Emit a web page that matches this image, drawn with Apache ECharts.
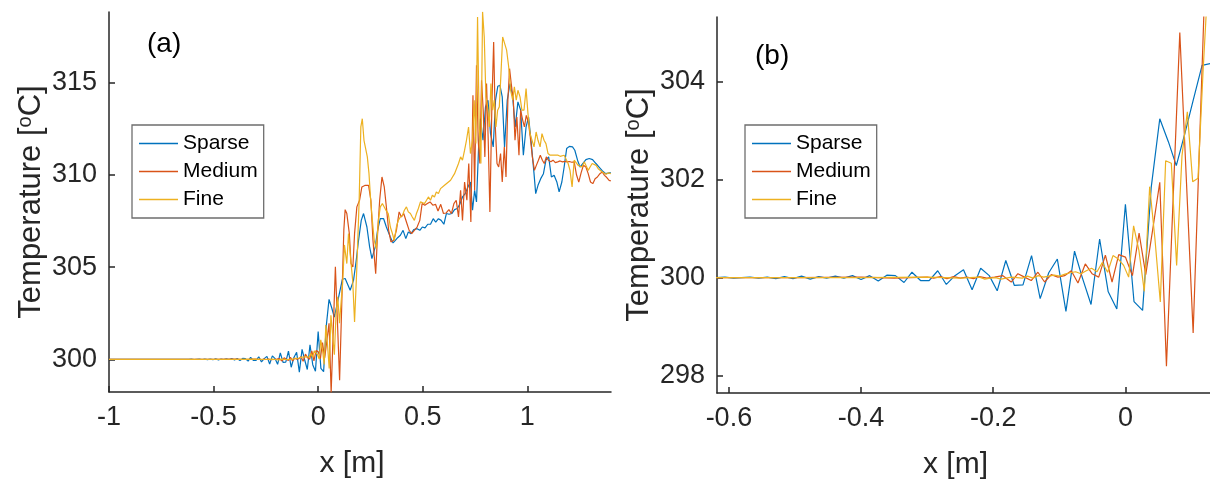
<!DOCTYPE html>
<html>
<head>
<meta charset="utf-8">
<script src="https://cdn.jsdelivr.net/npm/echarts@6/dist/echarts.min.js"></script>
<style>
html,body{margin:0;padding:0;background:#fff;}
#chart{width:1210px;height:485px;}
</style>
</head>
<body>
<div id="chart"></div>
<script>
// ---------- data (x [m], Temperature [oC]) ----------
const seriesNames = ['Sparse', 'Medium', 'Fine'];
const xTicksA = [-1, -0.5, 0, 0.5, 1];
const yTicksA = [300, 305, 310, 315];
const xTicksB = [-0.6, -0.4, -0.2, 0];
const yTicksB = [298, 300, 302, 304];

const sparse = [
[-1,300],[-0.619,300.00],[-0.606,300.01],[-0.593,299.99],[-0.581,300.00],[-0.568,300.01],[-0.555,299.99],
[-0.542,300.01],[-0.529,299.98],[-0.516,300.02],[-0.503,299.98],[-0.490,300.03],[-0.477,299.97],[-0.464,300.02],
[-0.452,299.99],[-0.439,300.03],[-0.426,299.99],[-0.413,300.04],[-0.400,299.96],[-0.387,300.04],[-0.374,299.93],
[-0.361,300.05],[-0.348,300.04],[-0.335,299.90],[-0.323,300.11],[-0.310,299.94],[-0.297,299.94],[-0.284,300.14],
[-0.271,299.86],[-0.258,300.04],[-0.245,300.16],[-0.232,299.75],[-0.219,300.19],[-0.206,300.04],[-0.194,299.73],
[-0.181,300.35],[-0.168,299.84],[-0.155,299.85],[-0.142,300.45],[-0.129,299.57],[-0.116,300.10],[-0.103,300.38],
[-0.090,299.31],[-0.077,300.54],[-0.065,299.99],[-0.052,299.45],[-0.039,300.79],[-0.026,299.71],[-0.013,299.36],
[0,301.50],[0.013,299.51],[0.026,299.33],[0.039,301.84],[0.052,303.25],[0.065,302.78],[0.077,302.29],
[0.090,302.95],[0.103,303.65],[0.116,304.34],[0.129,304.38],
[0.137,304.28],[0.153,303.74],[0.169,304.28],[0.182,305.37],[0.193,306.45],[0.206,307.53],[0.217,307.90],
[0.233,307.17],[0.246,306.09],[0.257,305.46],[0.273,306.09],[0.284,306.99],[0.297,307.62],[0.313,307.62],
[0.326,307.17],[0.345,306.63],[0.358,306.31],[0.369,306.45],[0.380,306.59],[0.393,306.72],[0.406,306.99],
[0.419,306.54],[0.431,306.90],[0.444,306.81],[0.457,307.03],[0.473,307.08],[0.486,306.99],[0.498,307.17],
[0.511,307.12],[0.524,307.32],[0.537,307.32],[0.550,307.62],[0.562,307.44],[0.575,307.62],[0.588,307.53],
[0.601,307.32],[0.613,307.90],[0.626,307.86],[0.639,307.90],[0.652,308.11],[0.665,308.17],[0.677,308.40],
[0.690,308.80],[0.703,308.98],[0.716,309.34],[0.728,309.61],[0.738,308.08],[0.748,309.16],[0.757,308.53],
[0.768,311.78],[0.776,313.04],[0.788,311.87],[0.800,313.68],[0.812,314.04],[0.824,312.23],[0.837,311.51],
[0.848,314.04],[0.859,314.80],[0.869,314.85],[0.880,314.22],[0.891,311.51],[0.904,314.04],[0.917,314.94],
[0.930,314.22],[0.942,312.59],[0.955,313.95],[0.968,313.50],[0.981,311.06],[0.994,312.59],[1.006,313.13],
[1.019,311.69],[1.032,310.06],[1.040,308.98],[1.051,309.43],[1.064,309.79],[1.077,310.06],[1.089,310.79],
[1.102,310.97],[1.115,309.88],[1.128,309.97],[1.141,309.61],[1.152,309.07],[1.165,309.61],[1.176,310.42],
[1.188,311.42],[1.201,311.54],[1.216,311.51],[1.227,311.33],[1.240,310.79],[1.252,310.42],[1.265,310.61],
[1.280,310.82],[1.296,310.88],[1.312,310.82],[1.328,310.61],[1.343,310.42],[1.359,310.21],[1.375,310.06],
[1.399,310.12]
];

const medium = [
[-1,300],[-0.62,300.00],[-0.50,300.00],[-0.40,300.01],[-0.35,299.99],[-0.30,300.01],[-0.29,299.99],
[-0.28,300.02],[-0.27,299.98],[-0.26,300.02],[-0.25,299.99],[-0.24,300.01],[-0.23,299.98],
[-0.2208,300.02],[-0.2097,299.99],[-0.1980,300.01],[-0.1854,300.04],[-0.1728,299.91],[-0.1627,300.08],
[-0.1526,300.01],[-0.1425,299.94],[-0.1324,300.11],[-0.1223,299.91],[-0.1122,300.06],[-0.1021,300.01],
[-0.0920,300.04],[-0.0819,300.14],[-0.0718,299.89],[-0.0607,300.28],[-0.0505,300.08],[-0.0404,300.01],
[-0.0303,300.46],[-0.0202,299.91],[-0.0101,300.47],[0.0000,300.42],[0.0106,300.04],[0.0207,300.91],
[0.0308,300.06],[0.0414,300.99],[0.0520,301.95],[0.0621,298.19],[0.0722,301.61],[0.0823,305.01],
[0.0924,301.95],[0.1025,298.87],[0.1126,302.90],[0.1227,307.00],
[0.129,308.11],[0.137,307.90],[0.149,306.81],[0.157,305.19],[0.166,305.00],[0.174,306.81],[0.185,308.26],
[0.198,308.62],[0.209,309.34],[0.225,309.43],[0.241,309.43],[0.252,308.62],[0.262,306.45],[0.275,304.64],
[0.284,306.81],[0.294,308.62],[0.305,309.88],[0.316,309.34],[0.326,308.26],[0.337,306.99],[0.348,306.36],
[0.361,306.45],[0.374,306.99],[0.387,307.99],[0.398,307.71],[0.409,307.90],[0.422,307.44],[0.435,306.99],
[0.447,306.81],[0.460,306.99],[0.473,307.17],[0.486,307.53],[0.497,308.44],[0.510,308.35],[0.522,308.44],
[0.535,308.53],[0.548,308.35],[0.561,308.40],[0.573,308.04],[0.586,308.40],[0.599,307.90],[0.612,307.93],
[0.625,308.11],[0.637,307.90],[0.649,308.44],[0.660,308.62],[0.671,307.71],[0.681,309.16],[0.690,307.53],
[0.700,309.61],[0.711,308.62],[0.720,310.61],[0.730,307.44],[0.740,314.31],[0.748,309.16],[0.757,315.93],
[0.765,311.87],[0.773,310.61],[0.781,315.12],[0.789,313.50],[0.797,310.97],[0.805,314.94],[0.813,311.87],
[0.821,307.99],[0.831,314.04],[0.839,317.20],[0.847,312.59],[0.855,310.61],[0.863,310.42],[0.872,311.15],
[0.880,309.61],[0.890,311.51],[0.898,309.88],[0.907,314.04],[0.915,315.75],[0.923,314.94],[0.933,314.04],
[0.941,311.87],[0.950,313.13],[0.960,311.06],[0.968,313.50],[0.978,312.95],[0.986,312.59],[0.995,313.22],
[1.005,312.86],[1.014,312.05],[1.024,310.97],[1.034,310.24],[1.043,310.51],[1.053,310.79],[1.062,311.06],
[1.072,310.79],[1.081,310.61],[1.091,310.97],[1.101,310.79],[1.112,310.70],[1.123,310.79],[1.134,310.66],
[1.145,310.70],[1.157,310.75],[1.168,310.70],[1.179,310.73],[1.190,310.70],[1.201,310.72],[1.212,310.68],
[1.224,310.70],[1.235,310.00],[1.246,309.60],[1.257,310.10],[1.268,310.51],[1.280,310.42],[1.291,310.06],
[1.302,309.61],[1.313,309.52],[1.324,309.79],[1.335,309.88],[1.347,310.06],[1.358,310.15],[1.369,309.97],
[1.380,309.85],[1.391,309.70],[1.399,309.67]
];

const fine = [
[-1,300],[-0.60,300.00],[-0.40,300.00],[-0.30,300.01],[-0.25,299.99],
[-0.2208,300.01],[-0.2127,299.97],[-0.2046,299.99],[-0.1965,300.00],[-0.1885,299.97],[-0.1804,299.99],
[-0.1723,300.01],[-0.1642,300.00],[-0.1562,299.99],[-0.1481,300.03],[-0.1400,299.99],[-0.1319,300.04],
[-0.1238,300.01],[-0.1158,300.03],[-0.1077,300.05],[-0.0996,300.03],[-0.0915,300.07],[-0.0834,300.10],
[-0.0754,300.12],[-0.0673,300.08],[-0.0592,300.14],[-0.0511,300.19],[-0.0430,300.12],[-0.0350,300.31],
[-0.0269,300.11],[-0.0188,300.45],[-0.0107,300.38],[-0.0027,300.25],[0.0049,300.01],[0.0124,301.06],
[0.0205,300.55],[0.0286,299.72],[0.0367,301.86],[0.0447,300.79],[0.0528,299.50],[0.0609,302.39],
[0.0695,302.34],[0.0775,300.25],[0.0856,302.49],[0.0937,303.39],[0.1018,301.96],[0.1098,302.03],
[0.1174,304.19],[0.1255,306.20],
[0.137,305.19],[0.145,306.81],[0.153,305.73],[0.165,304.28],[0.174,302.02],[0.185,305.00],[0.196,308.62],
[0.204,312.59],[0.211,313.04],[0.219,311.87],[0.227,311.42],[0.235,310.97],[0.243,310.06],[0.251,308.62],
[0.259,307.53],[0.268,306.45],[0.278,306.00],[0.288,307.53],[0.297,308.26],[0.307,308.44],[0.316,308.40],
[0.326,308.04],[0.335,307.90],[0.345,307.17],[0.355,306.81],[0.364,306.45],[0.374,307.17],[0.383,307.53],
[0.393,307.71],[0.403,307.80],[0.412,308.08],[0.422,308.26],[0.431,307.99],[0.441,307.90],[0.450,307.71],
[0.460,307.53],[0.470,307.90],[0.479,308.17],[0.489,308.53],[0.498,308.62],[0.508,308.44],[0.518,308.62],
[0.527,308.80],[0.537,308.62],[0.546,308.89],[0.556,308.80],[0.565,309.07],[0.575,308.98],[0.585,309.25],
[0.594,309.16],[0.604,309.43],[0.613,309.34],[0.623,309.61],[0.633,309.70],[0.642,309.79],[0.652,310.06],
[0.661,309.97],[0.671,310.61],[0.681,310.97],[0.690,310.79],[0.700,311.33],[0.709,311.87],[0.719,312.59],
[0.728,311.15],[0.738,311.87],[0.746,314.04],[0.754,311.69],[0.762,318.55],[0.770,312.59],[0.778,310.61],
[0.786,318.83],[0.794,317.47],[0.802,314.22],[0.810,313.68],[0.818,312.59],[0.826,314.94],[0.834,313.50],
[0.842,314.04],[0.850,312.59],[0.858,313.50],[0.866,313.68],[0.874,315.48],[0.882,317.47],[0.891,317.47],
[0.901,316.75],[0.911,315.84],[0.920,314.58],[0.930,314.04],[0.938,314.76],[0.947,314.04],[0.955,314.58],
[0.965,314.22],[0.974,313.50],[0.984,313.50],[0.994,314.67],[1.003,313.32],[1.013,312.23],[1.022,312.32],
[1.032,311.51],[1.042,312.32],[1.051,311.87],[1.061,311.51],[1.070,312.23],[1.080,311.87],[1.089,311.69],
[1.099,311.15],[1.109,311.06],[1.118,310.97],[1.128,311.06],[1.137,310.97],[1.147,311.06],[1.157,311.00],
[1.166,311.06],[1.176,311.06],[1.185,311.15],[1.195,310.61],[1.204,310.24],[1.214,309.34],[1.224,310.79],
[1.233,310.70],[1.243,310.51],[1.252,310.61],[1.262,310.42],[1.272,310.70],[1.281,310.61],[1.291,310.24],
[1.300,310.42],[1.310,310.61],[1.319,310.70],[1.329,310.51],[1.339,310.33],[1.348,310.24],[1.358,310.15],
[1.367,310.06],[1.377,310.03],[1.387,310.10],[1.399,310.06]
];

// ---------- styling ----------
const colors = ['#0072BD', '#D95319', '#EDB120'];
const dataSets = [sparse, medium, fine];
const FONT = '"Liberation Sans", Arial, Helvetica, sans-serif';
const TXT = '#262626';

function xAxis(gi, min, max, ticks) {
  return {
    type: 'value', gridIndex: gi, min: min, max: max,
    axisLine: {show: true, onZero: false, lineStyle: {color: TXT, width: 1.5}},
    axisTick: {show: true, inside: true, length: 6, lineStyle: {color: TXT, width: 1.5}, customValues: ticks},
    axisLabel: {show: true, color: TXT, fontFamily: FONT, fontSize: 27, margin: 12, customValues: ticks,
      formatter: v => String(v)},
    splitLine: {show: false},
    name: 'x [m]', nameLocation: 'middle', nameGap: 57,
    nameTextStyle: {color: TXT, fontFamily: FONT, fontSize: 30, padding: [0, 16, 0, 0]}
  };
}
function yAxis(gi, min, max, ticks, gap) {
  return {
    type: 'value', gridIndex: gi, min: min, max: max,
    axisLine: {show: true, onZero: false, lineStyle: {color: TXT, width: 1.5}},
    axisTick: {show: true, inside: true, length: 6, lineStyle: {color: TXT, width: 1.5}, customValues: ticks},
    axisLabel: {show: true, color: TXT, fontFamily: FONT, fontSize: 27, margin: 12, customValues: ticks},
    splitLine: {show: false},
    name: 'Temperature [{s|o}C]', nameLocation: 'middle', nameGap: gap,
    nameTextStyle: {color: TXT, fontFamily: FONT, fontSize: 31, lineHeight: 33,
      rich: {s: {fontSize: 20, fontFamily: FONT, color: TXT, verticalAlign: 'top', lineHeight: 20}}}
  };
}

const series = [];
[0, 1].forEach(gi => {
  dataSets.forEach((d, i) => {
    series.push({
      name: seriesNames[i], type: 'line', xAxisIndex: gi, yAxisIndex: gi,
      data: d, showSymbol: false, symbol: 'none', clip: true,
      lineStyle: {color: colors[i], width: 1.2}, itemStyle: {color: colors[i]},
      z: 2 + i, emphasis: {disabled: true}
    });
  });
});

function legend(left, top) {
  return {
    orient: 'vertical', left: left, top: top, data: seriesNames,
    icon: 'rect', itemWidth: 39, itemHeight: 1.5, itemGap: 7,
    padding: [8, 6, 8, 7], backgroundColor: '#fff',
    borderColor: '#6e6e6e', borderWidth: 1.3, borderRadius: 0,
    textStyle: {color: '#000', fontFamily: FONT, fontSize: 21, lineHeight: 20},
    selectedMode: false
  };
}

const chart = echarts.init(document.getElementById('chart'), null, {renderer: 'canvas'});
chart.setOption({
  animation: false,
  backgroundColor: '#fff',
  color: colors,
  grid: [
    {left: 109, top: 12, width: 502, height: 380},
    {left: 717, top: 17, width: 493, height: 377}
  ],
  xAxis: [xAxis(0, -1, 1.4, xTicksA), xAxis(1, -0.618, 0.128, xTicksB)],
  yAxis: [yAxis(0, 298.23, 318.82, yTicksA, 61), yAxis(1, 297.64, 305.33, yTicksB, 60)],
  legend: [legend(132, 125), legend(745, 125)],
  tooltip: {show: false},
  graphic: [
    {type: 'text', left: 147, top: 30, style: {text: '(a)', fontSize: 28, fontFamily: FONT, fill: '#000'}},
    {type: 'text', left: 755, top: 42, style: {text: '(b)', fontSize: 28, fontFamily: FONT, fill: '#000'}}
  ],
  series: series
});
</script>
</body>
</html>
